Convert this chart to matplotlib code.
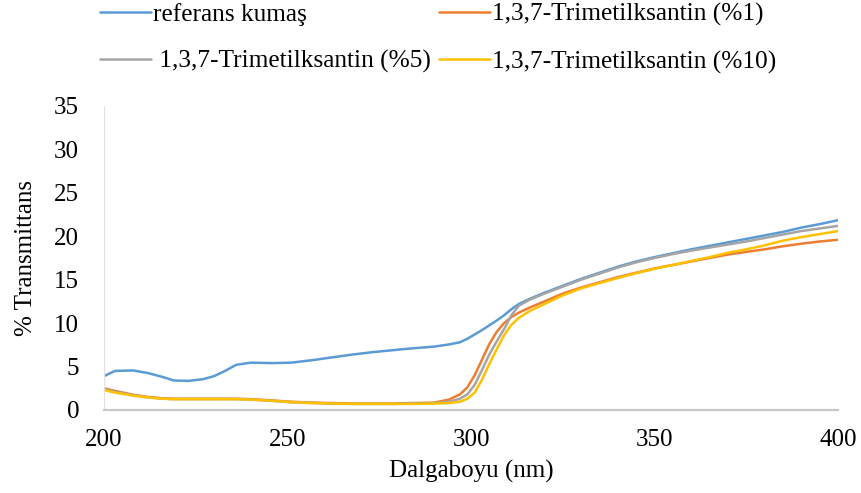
import matplotlib
matplotlib.use("Agg")
import matplotlib.pyplot as plt

# Wavelength grid (nm)
wavelength = [200, 203, 208, 212, 216, 219, 223, 227, 230, 233, 236, 240, 246, 251,
              257, 262, 268, 273, 279, 284, 290, 294, 297, 299, 301, 303, 305, 307,
              309, 311, 313, 316, 320, 325, 330, 335, 340, 345, 350, 355, 360, 365,
              370, 375, 380, 385, 390, 395, 400]

referans = [3.9, 4.5, 4.55, 4.25, 3.8, 3.4, 3.35, 3.55, 3.9, 4.5, 5.2, 5.45, 5.4, 5.45,
            5.75, 6.05, 6.4, 6.65, 6.9, 7.1, 7.3, 7.55, 7.8, 8.2, 8.7, 9.2, 9.75, 10.3,
            10.9, 11.6, 12.2, 12.8, 13.5, 14.3, 15.1, 15.8, 16.5, 17.1, 17.6, 18.05, 18.5, 18.9,
            19.3, 19.7, 20.1, 20.5, 21.0, 21.4, 21.85]

tms_1 = [2.5, 2.2, 1.75, 1.5, 1.35, 1.3, 1.3, 1.3, 1.3, 1.3, 1.3, 1.25, 1.1, 0.95,
         0.85, 0.8, 0.75, 0.75, 0.75, 0.8, 0.85, 1.2, 1.8, 2.6, 4.0, 5.8, 7.6, 9.0,
         10.0, 10.7, 11.2, 11.8, 12.5, 13.4, 14.1, 14.7, 15.3, 15.8, 16.3, 16.7, 17.1, 17.5,
         17.9, 18.2, 18.5, 18.85, 19.15, 19.4, 19.6]

tms_5 = [2.4, 2.1, 1.7, 1.45, 1.3, 1.25, 1.25, 1.25, 1.25, 1.25, 1.25, 1.2, 1.05, 0.9,
         0.8, 0.75, 0.7, 0.7, 0.7, 0.75, 0.8, 0.95, 1.3, 1.8, 2.9, 4.6, 6.4, 7.9,
         9.3, 10.9, 12.0, 12.7, 13.4, 14.2, 15.0, 15.7, 16.4, 17.0, 17.5, 17.95, 18.35, 18.7,
         19.05, 19.4, 19.8, 20.2, 20.6, 20.9, 21.2]

tms_10 = [2.3, 2.0, 1.65, 1.45, 1.3, 1.25, 1.25, 1.25, 1.25, 1.25, 1.25, 1.2, 1.05, 0.9,
          0.8, 0.75, 0.7, 0.7, 0.7, 0.7, 0.75, 0.8, 0.95, 1.3, 2.0, 3.5, 5.3, 7.0,
          8.6, 9.8, 10.6, 11.4, 12.2, 13.2, 14.0, 14.6, 15.2, 15.75, 16.25, 16.7, 17.15, 17.6,
          18.1, 18.5, 18.95, 19.5, 19.9, 20.25, 20.6]

labels = ["referans kumaş", "1,3,7-Trimetilksantin (%1)",
          " 1,3,7-Trimetilksantin (%5)", "1,3,7-Trimetilksantin (%10)"]
colors = ["#5B9BD5", "#ED7D31", "#A5A5A5", "#FFC000"]
series = [referans, tms_1, tms_5, tms_10]

x_ticks = [200, 250, 300, 350, 400]
y_ticks = [0, 5, 10, 15, 20, 25, 30, 35]

plt.rcParams["font.family"] = ["Liberation Serif", "DejaVu Serif"]

fig = plt.figure(figsize=(8.61, 4.93), dpi=100)
ax = fig.add_axes([104 / 861, 1 - 410 / 493, (838 - 104) / 861, (410 - 106) / 493])

handles = []
for vals, col, lab in zip(series, colors, labels):
    h, = ax.plot(wavelength, vals, color=col, lw=1.8, label=lab, solid_capstyle="round")
    handles.append(h)

ax.set_xlim(200, 400)
ax.set_ylim(0, 35)
ax.set_xticks(x_ticks)
ax.set_yticks(y_ticks)
ax.tick_params(length=0, labelsize=18, colors="#000000")
ax.tick_params(axis="x", pad=14)
ax.tick_params(axis="y", pad=18)

for side in ["top", "right"]:
    ax.spines[side].set_visible(False)
ax.spines["bottom"].set_color("#C8C8C8")
ax.spines["bottom"].set_linewidth(1.6)
ax.spines["left"].set_color("#E0E0E0")
ax.spines["left"].set_linewidth(0.8)

ax.set_xlabel("Dalgaboyu (nm)", fontsize=18, labelpad=6)
ax.set_ylabel("% Transmittans", fontsize=18, labelpad=12)

# legend entries filled row by row (two columns)
order = [0, 2, 1, 3]
leg = fig.legend([handles[i] for i in order], [labels[i] for i in order],
                 ncol=2, loc="upper left", bbox_to_anchor=(100 / 861, 1 - 3 / 493),
                 frameon=False, fontsize=18.3, handlelength=2.0, handletextpad=0.1,
                 columnspacing=0.3, labelspacing=0.95, borderaxespad=0.0,
                 borderpad=0.0)

fig.savefig("out.png", dpi=100)
